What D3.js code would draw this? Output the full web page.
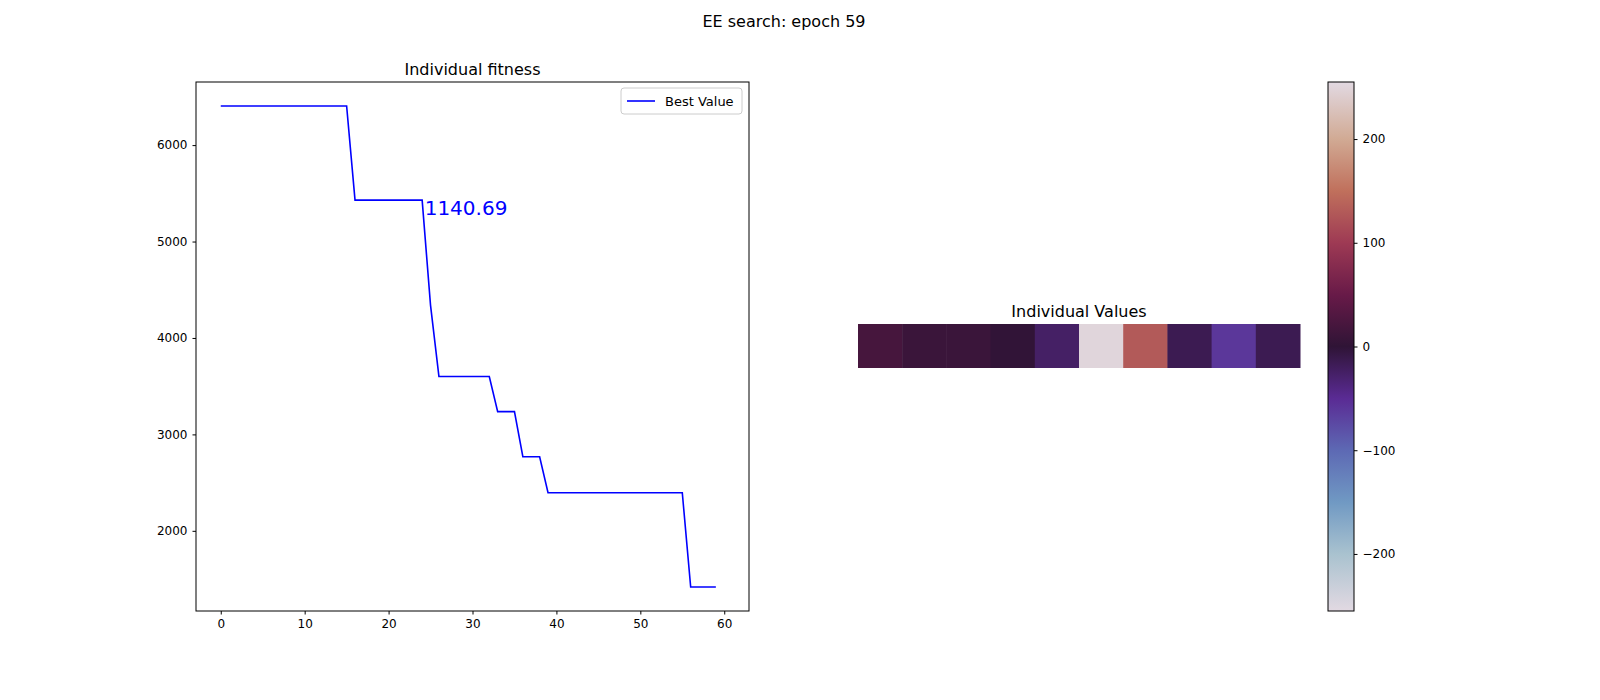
<!DOCTYPE html>
<html>
<head>
<meta charset="utf-8">
<script src="https://cdn.jsdelivr.net/npm/d3@7"></script>
<style>
  html, body { margin: 0; background: #fff; overflow: hidden; }
  svg { display: block; }
  text { font-family: "DejaVu Sans", sans-serif; }
</style>
</head>
<body>
<svg id="chart" width="1600" height="700"></svg>
<script>
// fitness per epoch (best value so far)
const epochs = d3.range(0, 60);
const bestValues = [
  6405, 6405, 6405, 6405, 6405, 6405, 6405, 6405, 6405, 6405,
  6405, 6405, 6405, 6405, 6405, 6405, 5429, 5429, 5429, 5429,
  5429, 5429, 5429, 5429, 5429, 4338, 3600, 3600, 3600, 3600,
  3600, 3600, 3600, 3236, 3236, 3236, 2768, 2768, 2768, 2395,
  2395, 2395, 2395, 2395, 2395, 2395, 2395, 2395, 2395, 2395,
  2395, 2395, 2395, 2395, 2395, 2395, 1418, 1418, 1418, 1418
];
const xTicks = [0, 10, 20, 30, 40, 50, 60];
const yTicks = [2000, 3000, 4000, 5000, 6000];
const annotation = "1140.69";

// individual genome values
const individualValues = [20, 10, 10, 2, -25, 250, 130, -15, -60, -15];
const cbTicks = [-200, -100, 0, 100, 200];

// approximate matplotlib "twilight"
const cmapStops = [-255, -200, -150, -100, -50, 0, 50, 100, 150, 200, 255];
const cmapColors = ["#e2d9e2", "#a9c2cf", "#7099c3", "#5d69b4", "#5a2b94", "#2f1436",
                    "#681a48", "#9e3a54", "#c0705c", "#d1aa94", "#e2d9e2"];
const cmap = d3.scaleLinear().domain(cmapStops).range(cmapColors).interpolate(d3.interpolateRgb);

const svg = d3.select('#chart');

svg.append('text').attr('x', 784).attr('y', 27).attr('text-anchor', 'middle')
  .attr('font-size', 16).text('EE search: epoch 59');

// ---- left: fitness line ----
const L = { x0: 196, x1: 749, y0: 82, y1: 611 };
const x = d3.scaleLinear().domain([-2.95, 62.95]).range([L.x0, L.x1]);
const y = d3.scaleLinear().domain([1168.6, 6654.4]).range([L.y1, L.y0]);

svg.append('g').attr('transform', `translate(0,${L.y1})`)
  .call(d3.axisBottom(x).tickValues(xTicks).tickSize(3.5).tickPadding(5).tickFormat(d3.format('d')))
  .call(g => g.select('.domain').remove())
  .selectAll('text').attr('font-size', 12).attr('fill', '#000');
svg.append('g').attr('transform', `translate(${L.x0},0)`)
  .call(d3.axisLeft(y).tickValues(yTicks).tickSize(3.5).tickPadding(5).tickFormat(d3.format('d')))
  .call(g => g.select('.domain').remove())
  .selectAll('text').attr('font-size', 12).attr('fill', '#000');

svg.append('path')
  .datum(epochs.map((e, i) => [e, bestValues[i]]))
  .attr('fill', 'none').attr('stroke', '#0000ff').attr('stroke-width', 1.6)
  .attr('d', d3.line().x(d => x(d[0])).y(d => y(d[1])));

svg.append('rect').attr('x', L.x0).attr('y', L.y0)
  .attr('width', L.x1 - L.x0).attr('height', L.y1 - L.y0)
  .attr('fill', 'none').attr('stroke', '#000');

svg.append('text').attr('x', (L.x0 + L.x1) / 2).attr('y', 75).attr('text-anchor', 'middle')
  .attr('font-size', 16).text('Individual fitness');

svg.append('text').attr('x', x(24.3)).attr('y', y(5270)).attr('fill', '#0000ff')
  .attr('font-size', 20).text(annotation);

// legend
const lg = svg.append('g').attr('transform', 'translate(621,88)');
lg.append('rect').attr('width', 121).attr('height', 26).attr('rx', 3)
  .attr('fill', '#fff').attr('stroke', '#ccc');
lg.append('line').attr('x1', 6).attr('x2', 34).attr('y1', 13).attr('y2', 13)
  .attr('stroke', '#0000ff').attr('stroke-width', 1.6);
lg.append('text').attr('x', 44).attr('y', 18).attr('font-size', 13).text('Best Value');

// ---- right: heatmap ----
const hx = d3.scaleBand().domain(d3.range(individualValues.length)).range([858, 1300]);
svg.append('g').selectAll('rect').data(individualValues).join('rect')
  .attr('x', (d, i) => hx(i)).attr('y', 324)
  .attr('width', hx.bandwidth() + 0.5).attr('height', 44)
  .attr('fill', d => cmap(d));
svg.append('text').attr('x', 1079).attr('y', 317).attr('text-anchor', 'middle')
  .attr('font-size', 16).text('Individual Values');

// colorbar
const cy = d3.scaleLinear().domain([-255, 255]).range([611, 82]);
const defs = svg.append('defs');
const grad = defs.append('linearGradient').attr('id', 'cb')
  .attr('x1', 0).attr('x2', 0).attr('y1', 1).attr('y2', 0);
cmapStops.forEach((s, i) => grad.append('stop')
  .attr('offset', (s + 255) / 510).attr('stop-color', cmapColors[i]));
svg.append('rect').attr('x', 1328).attr('y', 82).attr('width', 26).attr('height', 529)
  .attr('fill', 'url(#cb)').attr('stroke', '#000');
svg.append('g').attr('transform', 'translate(1354,0)')
  .call(d3.axisRight(cy).tickValues(cbTicks).tickSize(3.5).tickPadding(5)
    .tickFormat(d => d < 0 ? '\u2212' + Math.abs(d) : d))
  .call(g => g.select('.domain').remove())
  .selectAll('text').attr('font-size', 12).attr('fill', '#000');
</script>
</body>
</html>
